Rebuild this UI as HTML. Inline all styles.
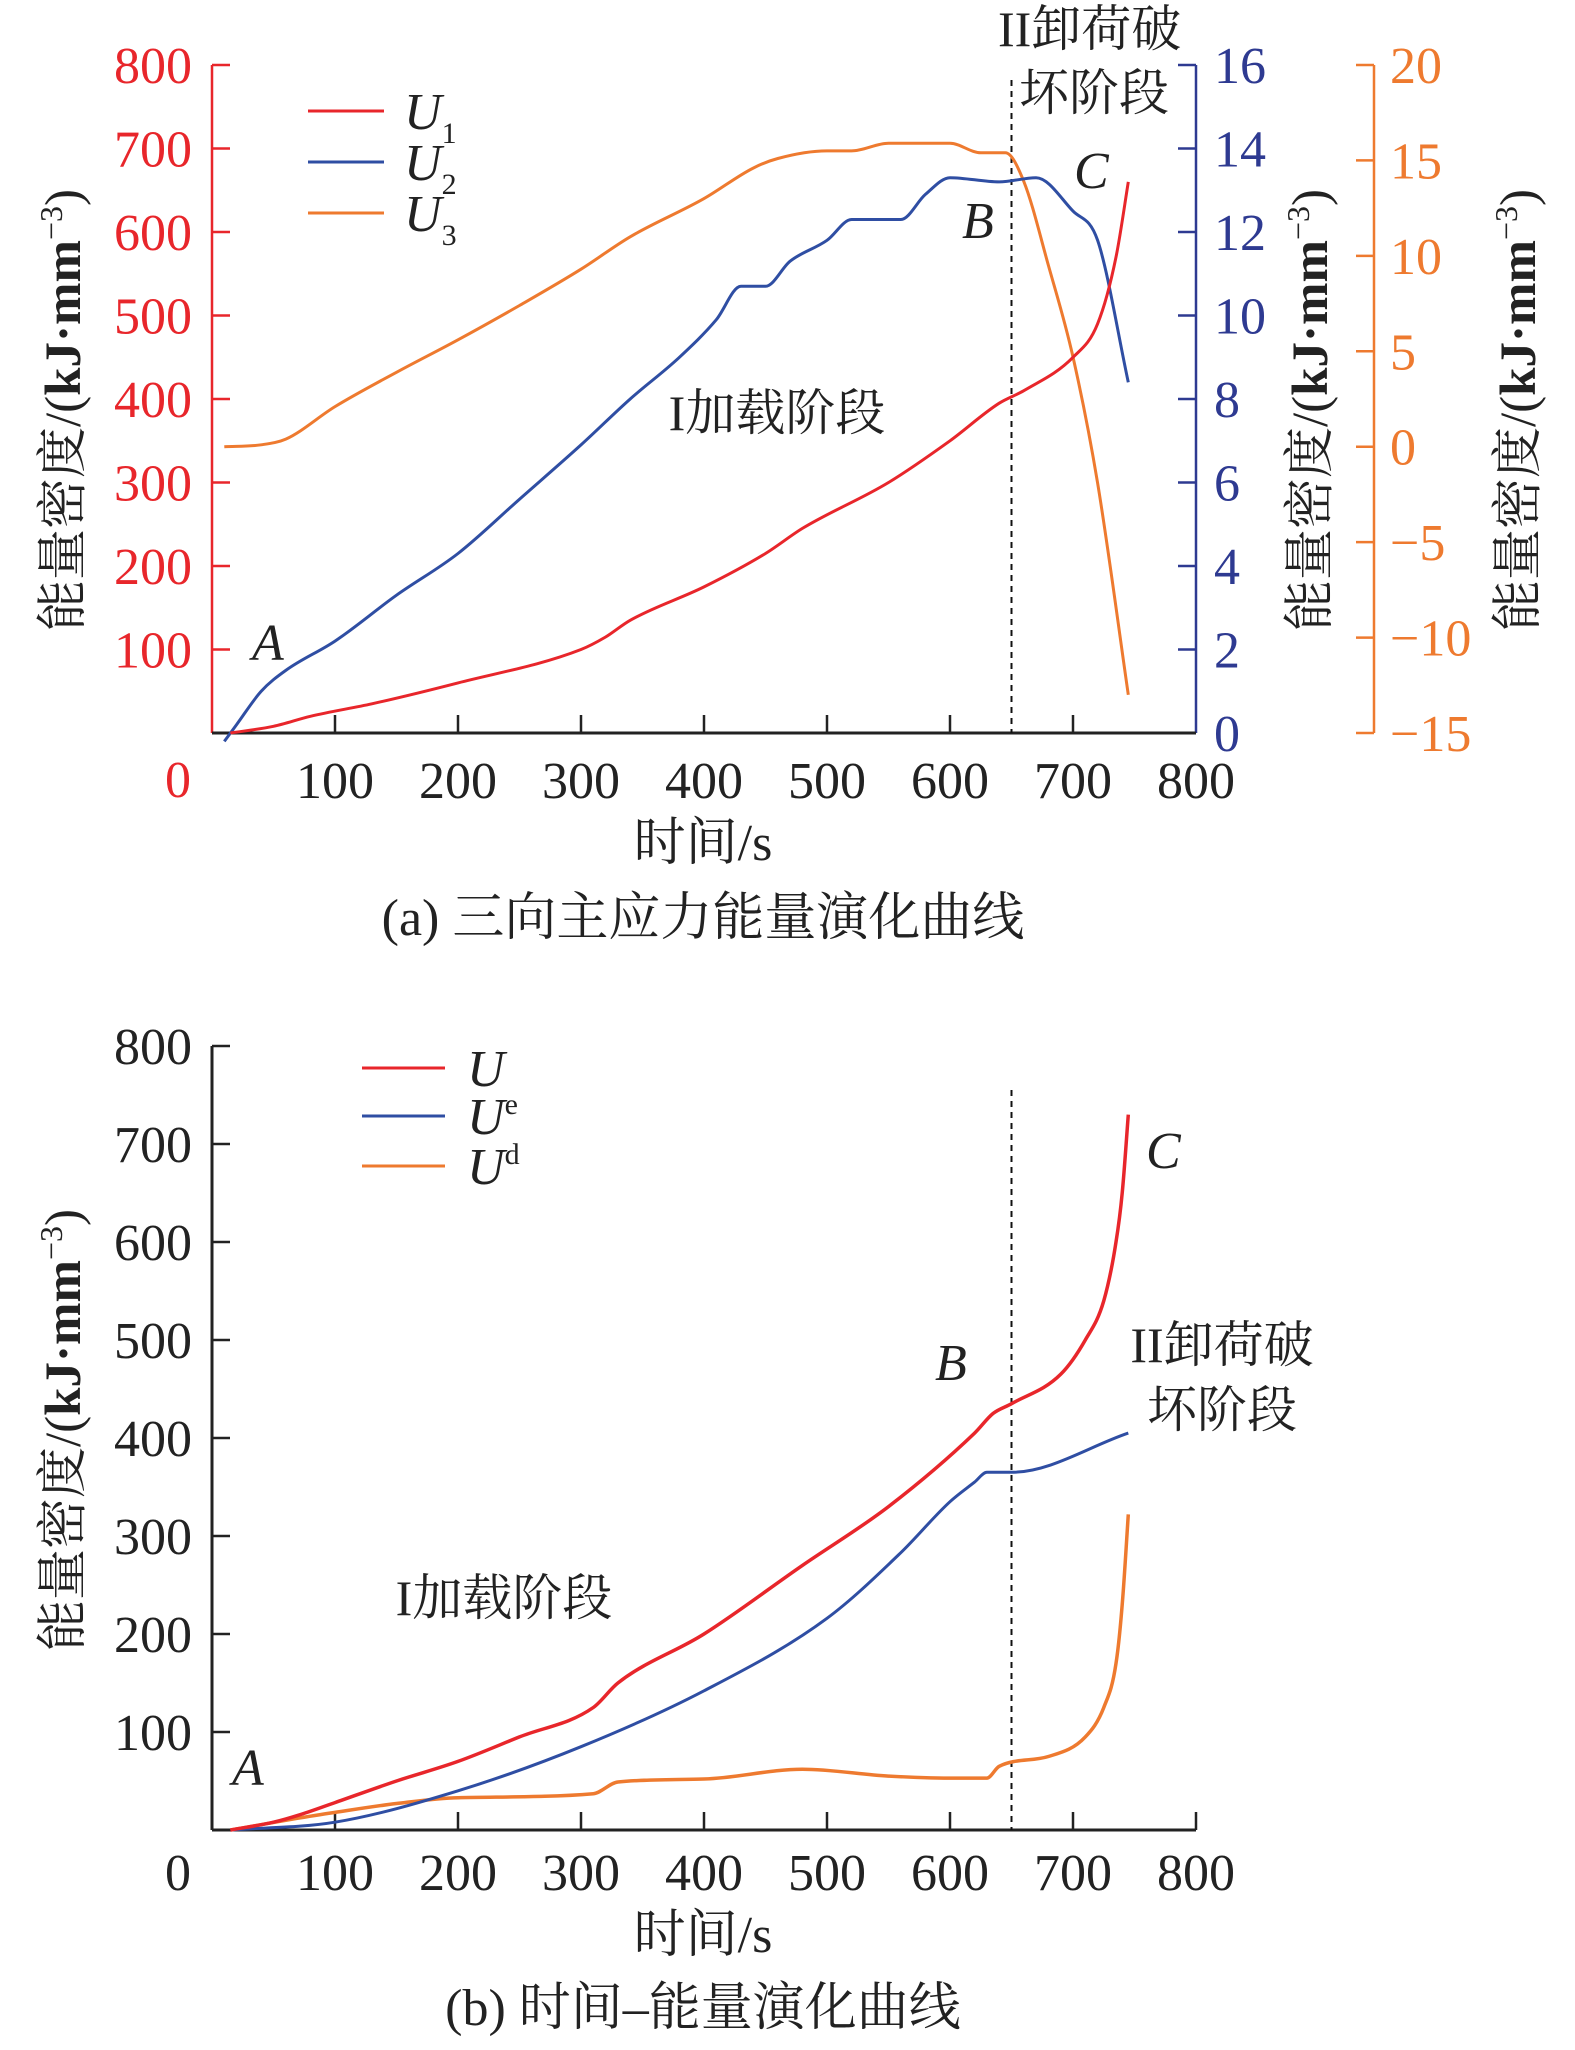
<!DOCTYPE html>
<html><head><meta charset="utf-8">
<style>
html,body{margin:0;padding:0;background:#fff;}
svg{display:block;}
text{font-family:"Liberation Serif","Noto Serif CJK SC",serif;}
.cj{font-family:"Liberation Serif","Noto Serif CJK SC","Noto Sans CJK SC",serif;}
</style></head>
<body>
<svg id="chart" width="1575" height="2050" viewBox="0 0 1575 2050" xmlns="http://www.w3.org/2000/svg"></svg>
<script>
// ---------- data: chart (a) ----------
const u1T = [15,50,80,130,200,300,320,340,400,450,480,550,600,640,660,700,720,735,745];
const u1V = [0,8,20,35,60,100,115,135,175,215,245,300,350,395,410,450,490,570,660];
const u2T = [10,20,40,60,100,150,200,250,300,340,380,410,430,450,470,500,520,560,580,600,640,670,700,720,745];
const u2V = [-0.2,0.2,1,1.5,2.2,3.3,4.3,5.6,6.9,8,9,9.9,10.7,10.7,11.3,11.8,12.3,12.3,12.9,13.3,13.2,13.3,12.5,11.8,8.4];
const u3T = [10,40,60,100,150,200,250,300,340,400,440,460,500,520,550,600,625,645,660,680,700,720,745];
const u3V = [0,0.1,0.4,2.1,3.9,5.6,7.4,9.3,11,13,14.6,15.1,15.5,15.5,15.9,15.9,15.4,15.4,13.9,9.5,4.7,-1.9,-13];
const xTicks = [0,100,200,300,400,500,600,700,800];
const leftTicks = [100,200,300,400,500,600,700,800];
const blueTicks = [0,2,4,6,8,10,12,14,16];
const orangeTicks = [-15,-10,-5,0,5,10,15,20];
// ---------- data: chart (b) ----------
const uT = [15,50,70,100,150,200,250,310,330,400,480,550,620,635,650,690,710,725,735,740,745];
const uV = [0,8,15,28,50,70,95,125,150,200,270,330,405,425,435,465,500,540,600,650,730];
const ueT = [15,100,200,300,400,500,560,600,620,630,650,745];
const ueV = [0,8,40,85,142,216,283,335,355,365,365,405];
const udT = [15,70,100,150,200,310,330,400,480,550,600,630,640,680,710,725,735,740,745];
const udV = [0,12,18,27,33,37,49,52,62,55,53,53,65,75,95,125,170,230,322];

const NS='http://www.w3.org/2000/svg';
const svg=document.getElementById('chart');
function el(tag,attrs,parent){const e=document.createElementNS(NS,tag);for(const k in attrs)e.setAttribute(k,attrs[k]);(parent||svg).appendChild(e);return e;}
function txt(s,x,y,opts,parent){const t=el('text',Object.assign({x:x,y:y,'font-size':52},opts||{}),parent);t.textContent=s;return t;}

const X0=212, X1=1196;
const xs=t=>X0+(t/800)*(X1-X0);
const A0=733, A1=65;
const ya=v=>A0-(v/800)*(A0-A1);
const yb2=v=>A0-(v/16)*(A0-A1);
const yo=v=>A0-((v+15)/35)*(A0-A1);
const B0=1830, B1=1046;
const yb=v=>B0-(v/800)*(B0-B1);

function smoothPath(T,V,fx,fy){
  const p=T.map((t,i)=>[fx(t),fy(V[i])]);
  const n=p.length, d=[], m=[];
  for(let i=0;i<n-1;i++) d.push((p[i+1][1]-p[i][1])/(p[i+1][0]-p[i][0]));
  m[0]=d[0]; m[n-1]=d[n-2];
  for(let i=1;i<n-1;i++){ m[i]=(d[i-1]*d[i]<=0)?0:(d[i-1]+d[i])/2; }
  for(let i=0;i<n-1;i++){
    if(d[i]===0){m[i]=0;m[i+1]=0;continue;}
    const a=m[i]/d[i], b=m[i+1]/d[i], s=a*a+b*b;
    if(s>9){const tt=3/Math.sqrt(s);m[i]=tt*a*d[i];m[i+1]=tt*b*d[i];}
  }
  let path='M'+p[0][0].toFixed(1)+','+p[0][1].toFixed(1);
  for(let i=0;i<n-1;i++){
    const h=(p[i+1][0]-p[i][0])/3;
    path+=' C'+(p[i][0]+h).toFixed(1)+','+(p[i][1]+m[i]*h).toFixed(1)+' '+(p[i+1][0]-h).toFixed(1)+','+(p[i+1][1]-m[i+1]*h).toFixed(1)+' '+p[i+1][0].toFixed(1)+','+p[i+1][1].toFixed(1);
  }
  return path;
}
const RED='#e8262b', BLUE='#2e3a91', BLUE2='#2f4ea3', ORANGE='#ee7a2f';

// ================= Chart (a) =================
const ga=el('g',{});


let ax=el('line',{x1:X0,y1:A0,x2:X0,y2:A1,stroke:RED,'stroke-width':2.5},ga);


leftTicks.forEach(v=>{
  el('line',{x1:X0,y1:ya(v),x2:X0+18,y2:ya(v),stroke:RED,'stroke-width':2.5},ga);
  const t=txt(String(v),192,ya(v)+18,{'text-anchor':'end',fill:RED},ga);
  
  
});
txt('0',178,797,{'text-anchor':'middle',fill:RED},ga);
ax=el('line',{x1:X1,y1:A0,x2:X1,y2:A1,stroke:BLUE,'stroke-width':2.5},ga);


blueTicks.forEach(v=>{
  el('line',{x1:X1,y1:yb2(v),x2:X1-18,y2:yb2(v),stroke:BLUE,'stroke-width':2.5},ga);
  const t=txt(String(v),1214,yb2(v)+18,{fill:BLUE},ga);
  
  
});
const OX=1374;
ax=el('line',{x1:OX,y1:A0,x2:OX,y2:A1,stroke:ORANGE,'stroke-width':2.5},ga);


orangeTicks.forEach(v=>{
  el('line',{x1:OX,y1:yo(v),x2:OX-18,y2:yo(v),stroke:ORANGE,'stroke-width':2.5},ga);
  const t=txt(v<0?'\u2212'+Math.abs(v):String(v),1390,yo(v)+18,{fill:ORANGE},ga);
  
  
});
ax=el('line',{x1:X0,y1:A0,x2:X1,y2:A0,stroke:'#222','stroke-width':3},ga);


xTicks.forEach(v=>{
  if(v>0&&v<800) el('line',{x1:xs(v),y1:A0,x2:xs(v),y2:A0-18,stroke:'#222','stroke-width':2.5},ga);
  if(v>0){const t=txt(String(v),xs(v),798,{'text-anchor':'middle',fill:'#222'},ga);
  
  }
});
el('line',{x1:xs(650),y1:80,x2:xs(650),y2:A0,stroke:'#111','stroke-width':2,'stroke-dasharray':'6,5'},ga);
let s=el('path',{d:smoothPath(u3T,u3V,xs,yo),fill:'none',stroke:ORANGE,'stroke-width':3},ga);


s=el('path',{d:smoothPath(u2T,u2V,xs,yb2),fill:'none',stroke:BLUE2,'stroke-width':3},ga);


s=el('path',{d:smoothPath(u1T,u1V,xs,ya),fill:'none',stroke:RED,'stroke-width':3},ga);


[[RED,'1',111],[BLUE2,'2',162],[ORANGE,'3',213]].forEach(([c,n,y])=>{
  const g=el('g',{},ga);
  
  
  el('line',{x1:308,y1:y,x2:384,y2:y,stroke:c,'stroke-width':3},g);
  const t=txt('',404,y+18,{'font-style':'italic',fill:'#222'},g);
  t.innerHTML='U<tspan font-size="30" font-style="normal" dy="14">'+n+'</tspan>';
});
txt('A',252,660,{'font-style':'italic','font-size':52,fill:'#222'},ga);
txt('B',962,238,{'font-style':'italic','font-size':52,fill:'#222'},ga);
txt('C',1074,188,{'font-style':'italic','font-size':52,fill:'#222'},ga);
txt('II卸荷破',998,46,{'font-size':50,fill:'#222',class:'cj'},ga);
txt('坏阶段',1019,110,{'font-size':50,fill:'#222',class:'cj'},ga);
txt('I加载阶段',777,430,{'font-size':50,fill:'#222','text-anchor':'middle',class:'cj'},ga);
txt('时间/s',703,860,{'font-size':52,fill:'#222','text-anchor':'middle',class:'cj'},ga);
txt('(a) 三向主应力能量演化曲线',703,935,{'font-size':52,fill:'#222','text-anchor':'middle',class:'cj'},ga);
function ytitle(x,cy,parent,name){
  const t=el('text',{x:0,y:0,'font-size':51,fill:'#222','text-anchor':'middle',class:'cj',transform:'translate('+x+','+cy+') rotate(-90)'},parent);
  
  
  t.innerHTML='能量密度/(<tspan font-weight="bold">kJ·mm</tspan><tspan font-size="32" dy="-18">−3</tspan><tspan dy="18">)</tspan>';
}
ytitle(80,410,ga,'left-y-axis-title');
ytitle(1327,410,ga,'blue-y-axis-title');
ytitle(1535,410,ga,'orange-y-axis-title');

// ================= Chart (b) =================
const gb=el('g',{});


ax=el('line',{x1:X0,y1:B0,x2:X0,y2:B1,stroke:'#222','stroke-width':3},gb);


leftTicks.forEach(v=>{
  el('line',{x1:X0,y1:yb(v),x2:X0+18,y2:yb(v),stroke:'#222','stroke-width':2.5},gb);
  const t=txt(String(v),192,yb(v)+18,{'text-anchor':'end',fill:'#222'},gb);
  
  
});
txt('0',178,1890,{'text-anchor':'middle',fill:'#222'},gb);
ax=el('line',{x1:X0,y1:B0,x2:X1,y2:B0,stroke:'#222','stroke-width':3},gb);


xTicks.forEach(v=>{
  if(v>0) el('line',{x1:xs(v),y1:B0,x2:xs(v),y2:B0-18,stroke:'#222','stroke-width':2.5},gb);
  if(v>0){const t=txt(String(v),xs(v),1890,{'text-anchor':'middle',fill:'#222'},gb);
  
  }
});
el('line',{x1:xs(650),y1:1090,x2:xs(650),y2:B0,stroke:'#111','stroke-width':2,'stroke-dasharray':'6,5'},gb);
s=el('path',{d:smoothPath(udT,udV,xs,yb),fill:'none',stroke:ORANGE,'stroke-width':3.5},gb);


s=el('path',{d:smoothPath(ueT,ueV,xs,yb),fill:'none',stroke:BLUE2,'stroke-width':3},gb);


s=el('path',{d:smoothPath(uT,uV,xs,yb),fill:'none',stroke:RED,'stroke-width':3.5},gb);


[[RED,'',1068],[BLUE2,'e',1116],[ORANGE,'d',1166]].forEach(([c,n,y])=>{
  const g=el('g',{},gb);
  
  
  el('line',{x1:362,y1:y,x2:445,y2:y,stroke:c,'stroke-width':3},g);
  const t=txt('',467,y+18,{'font-style':'italic',fill:'#222'},g);
  t.innerHTML='U'+(n?'<tspan font-size="30" font-style="normal" dy="-20">'+n+'</tspan>':'');
});
txt('A',232,1785,{'font-style':'italic','font-size':52,fill:'#222'},gb);
txt('B',935,1380,{'font-style':'italic','font-size':52,fill:'#222'},gb);
txt('C',1146,1168,{'font-style':'italic','font-size':52,fill:'#222'},gb);
txt('II卸荷破',1222,1362,{'font-size':50,fill:'#222','text-anchor':'middle',class:'cj'},gb);
txt('坏阶段',1222,1427,{'font-size':50,fill:'#222','text-anchor':'middle',class:'cj'},gb);
txt('I加载阶段',504,1615,{'font-size':50,fill:'#222','text-anchor':'middle',class:'cj'},gb);
txt('时间/s',703,1952,{'font-size':52,fill:'#222','text-anchor':'middle',class:'cj'},gb);
txt('(b) 时间–能量演化曲线',703,2025,{'font-size':52,fill:'#222','text-anchor':'middle',class:'cj'},gb);
ytitle(80,1430,gb,'y-axis-title-b');
</script>
</body></html>
